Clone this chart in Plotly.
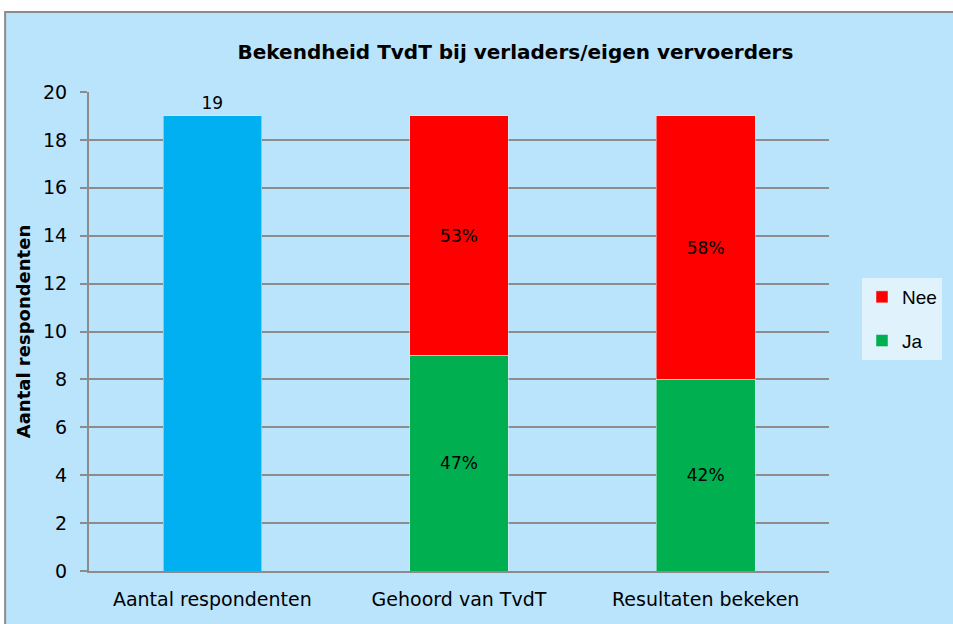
import plotly.graph_objects as go

categories = ["Aantal respondenten", "Gehoord van TvdT", "Resultaten bekeken"]
totaal = [19, None, None]
ja = [None, 9, 8]
nee = [None, 10, 11]
ja_pct = ["", "47%", "42%"]
nee_pct = ["", "53%", "58%"]

FONT = "DejaVu Sans"
BG = "#BAE3FC"
GRID = "#8C8C8C"

fig = go.Figure()
fig.add_trace(go.Bar(x=categories, y=totaal, name="Aantal", marker_color="#00B0F0",
                     text=[str(v) if v else "" for v in totaal], textposition="outside",
                     showlegend=False, cliponaxis=False,
                     textfont=dict(family=FONT, size=17, color="black")))
fig.add_trace(go.Bar(x=categories, y=ja, name="Ja", marker_color="#00B050",
                     legendgroup="ja", legendrank=2,
                     text=ja_pct, textposition="inside", insidetextanchor="middle",
                     textfont=dict(family=FONT, size=17, color="black")))
fig.add_trace(go.Bar(x=categories, y=nee, name="Nee", marker_color="#FF0000",
                     legendgroup="nee", legendrank=1,
                     text=nee_pct, textposition="inside", insidetextanchor="middle",
                     textfont=dict(family=FONT, size=17, color="black")))

L, R, T, B = 89, 123, 92, 53
W, H = 953, 624
pw, ph = W - L - R, H - T - B

def px_x(x):
    return (x - L) / pw

def px_y(y):
    return (H - B - y) / ph

fig.add_shape(type="rect", xref="paper", yref="paper",
              x0=px_x(5), x1=px_x(990), y0=px_y(690), y1=px_y(12),
              fillcolor=BG, line=dict(color="#8C8C8C", width=2), layer="below")

fig.update_layout(
    width=W, height=H,
    margin=dict(l=L, r=R, t=T, b=B),
    paper_bgcolor="white",
    plot_bgcolor="rgba(0,0,0,0)",
    barmode="stack",
    bargap=0.6,
    title=dict(text="<b>Bekendheid TvdT bij verladers/eigen vervoerders</b>",
               x=px_x(516), xref="paper", xanchor="center",
               y=1 - 52 / H, yanchor="middle",
               font=dict(family=FONT, size=20, color="black")),
    legend=dict(x=px_x(862), y=px_y(319), xanchor="left", yanchor="middle",
                traceorder="grouped", bgcolor="#E0F3FD",
                font=dict(family="Liberation Sans", size=19, color="black"),
                itemwidth=30, tracegroupgap=16),
    font=dict(family=FONT, size=19, color="black"),
)
fig.update_xaxes(showgrid=False, showline=True, linecolor=GRID, linewidth=2,
                 ticks="", ticklabelstandoff=10,
                 tickfont=dict(family=FONT, size=19, color="black"))
fig.update_yaxes(range=[0, 20], dtick=2, showgrid=True, gridcolor=GRID, gridwidth=2,
                 showline=True, linecolor=GRID, linewidth=2, zeroline=False,
                 ticks="outside", ticklen=7, tickcolor=GRID, tickwidth=2,
                 ticklabelstandoff=9,
                 tickfont=dict(family=FONT, size=19, color="black"),
                 title=dict(text="<b>Aantal respondenten</b>", standoff=8,
                            font=dict(family=FONT, size=18, color="black")))

fig.write_html("out.html", config={"displayModeBar": False},
               post_script="document.body.style.margin='0';")
